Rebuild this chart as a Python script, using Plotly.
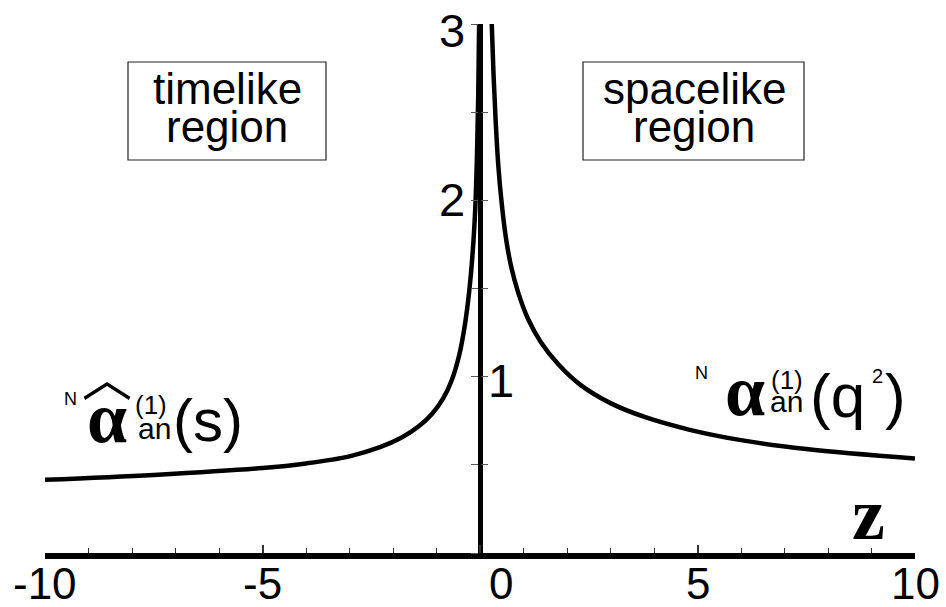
import plotly.graph_objects as go

# curve: timelike branch (z < 0) and spacelike branch (z > 0)
time_z = [-10, -7.5, -5, -4, -3, -2.3, -1.8, -1.4, -1.1, -0.85, -0.65, -0.48, -0.35, -0.25,
          -0.17, -0.11, -0.07, -0.04, -0.02]
time_a = [0.415, 0.443, 0.482, 0.508, 0.548, 0.60, 0.655, 0.72, 0.79, 0.875, 0.98, 1.12, 1.29, 1.48,
          1.70, 1.95, 2.25, 2.6, 3.0]

space_z = [0.27, 0.31, 0.36, 0.42, 0.5, 0.6, 0.72, 0.88, 1.1, 1.4, 1.8, 2.3, 3.0, 3.8, 4.8, 6.0, 7.5, 10]
space_a = [3.0, 2.72, 2.45, 2.2, 1.98, 1.78, 1.62, 1.475, 1.33, 1.195, 1.07, 0.955, 0.85, 0.77, 0.70,
           0.64, 0.59, 0.536]

x_tick_vals = [-10, -5, 0, 5, 10]
x_tick_text = ["-10", "-5", "0", "5", "10"]
y_tick_vals = [3, 2, 1]
y_tick_text = ["3", "2", "1"]

W, H = 946, 607
ML, MR, MT, MB = 45, 31, 24, 54
PW, PH = W - ML - MR, H - MT - MB
SANS = "Liberation Sans"
SERIF = "Liberation Serif"


def px_x(p):
    return (p - ML) / PW


def px_y(p):
    return (H - MB - p) / PH


fig = go.Figure()
for zs, al in [(time_z, time_a), (space_z, space_a)]:
    fig.add_trace(go.Scatter(x=zs, y=al, mode="lines",
                             line=dict(color="black", width=4.5, shape="spline", smoothing=1.0),
                             showlegend=False, hoverinfo="skip"))
# dummy trace so the overlaid second y axis (inner half of the crossing ticks) is drawn
fig.add_trace(go.Scatter(x=[0], y=[0], yaxis="y2", mode="markers", marker=dict(opacity=0),
                         showlegend=False, hoverinfo="skip"))

anns = []
# x tick labels (the 0 is pushed right of the vertical axis, as in the picture)
for v, t in zip(x_tick_vals, x_tick_text):
    anns.append(dict(x=v, y=0, xref="x", yref="y", text=t, showarrow=False,
                     xshift=21 if v == 0 else 0, yshift=-30,
                     font=dict(family=SANS, size=44, color="black")))
# y tick labels: 3 and 2 left of the axis, 1 right of it
for v, t in zip(y_tick_vals, y_tick_text):
    anns.append(dict(x=0, y=v, xref="x", yref="y", text=t, showarrow=False,
                     xshift=21 if v == 1 else -28, yshift={3: -6, 2: 1, 1: -4}[v],
                     font=dict(family=SANS, size=47, color="black")))


def txt(x, y, s, size, family=SANS, xanchor="center"):
    anns.append(dict(x=px_x(x), y=px_y(y), xref="paper", yref="paper", text=s,
                     showarrow=False, xanchor=xanchor, yanchor="middle",
                     font=dict(family=family, size=size, color="black")))


# axis name
txt(868, 514, "<b>z</b>", 74, SERIF)

# region boxes
txt(227, 88, "timelike", 44)
txt(227, 127, "region", 44)
txt(694, 88, "spacelike", 44)
txt(694, 127, "region", 44)

# timelike coupling label
txt(70, 399, "N", 18)
txt(107, 418, "<b>α</b>", 72, SERIF)
txt(107, 374, "︿", 50, "Noto Sans CJK SC")
txt(151, 405, "(1)", 26)
txt(154, 428, "an", 30)
txt(208, 420, "(s)", 60)

# spacelike coupling label
txt(701, 373, "N", 18)
txt(745, 391, "<b>α</b>", 72, SERIF)
txt(787, 380, "(1)", 26)
txt(786, 402, "an", 30)
txt(808, 395, "(q", 62, xanchor="left")
txt(877, 376, "2", 20)
txt(895, 395, ")", 62)

shapes = [
    dict(type="rect", xref="paper", yref="paper", x0=px_x(128), x1=px_x(326), y0=px_y(62), y1=px_y(160),
         line=dict(color="#222", width=1.2)),
    dict(type="rect", xref="paper", yref="paper", x0=px_x(583), x1=px_x(804), y0=px_y(62), y1=px_y(160),
         line=dict(color="#222", width=1.2)),
]

fig.update_layout(
    width=W, height=H,
    margin=dict(l=ML, r=MR, t=MT, b=MB),
    paper_bgcolor="white", plot_bgcolor="white",
    showlegend=False,
    xaxis=dict(range=[-10, 10], showgrid=False, zeroline=False,
               showline=True, linewidth=6, linecolor="black",
               ticks="inside", ticklen=8, tickwidth=1.5, tickcolor="#333",
               tickvals=x_tick_vals, showticklabels=False,
               minor=dict(dtick=1, ticks="inside", ticklen=5, tickwidth=1.2, tickcolor="#333")),
    yaxis=dict(range=[0, 3], showgrid=False, zeroline=False,
               anchor="free", position=0.5,
               showline=True, linewidth=5, linecolor="black",
               ticks="outside", ticklen=7, tickwidth=1, tickcolor="#555",
               dtick=0.5, showticklabels=False),
    yaxis2=dict(range=[0, 3], overlaying="y", anchor="free", position=0.5,
                showgrid=False, zeroline=False, showline=False,
                ticks="inside", ticklen=7, tickwidth=1, tickcolor="#555",
                dtick=0.5, showticklabels=False),
    annotations=anns,
    shapes=shapes,
)

fig.write_html("out.html", config={"displayModeBar": False},
               post_script="document.body.style.margin='0px';")
